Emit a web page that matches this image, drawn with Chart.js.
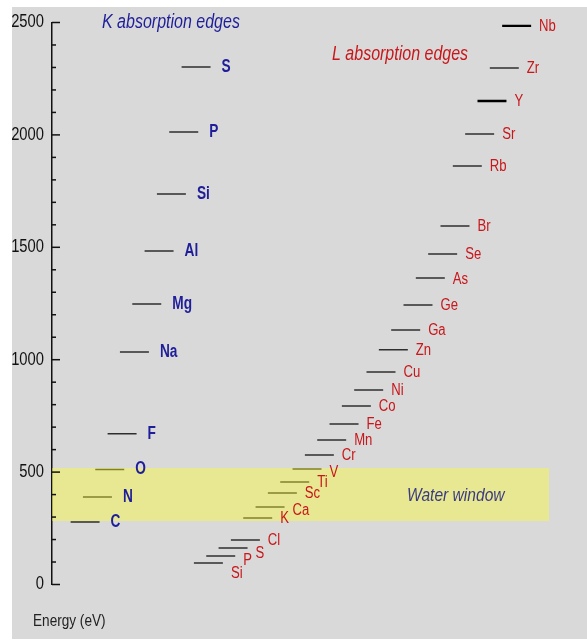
<!DOCTYPE html>
<html lang="en">
	<head>
		<meta charset="UTF-8" />
		<title>Absorption edges</title>
		<script src="https://cdn.jsdelivr.net/npm/chart.js"></script>
		<style>
			body { margin: 0; background: #fff; }
			.chart-container {
				position: absolute;
				left: 12px;
				top: 7px;
				width: 575px;
				height: 632px;
				background: #d9d9d9;
			}
		</style>
	</head>
	<body>
		<div class="chart-container">
			<canvas id="myChart"></canvas>
		</div>

		<script>
			// K edges (blue) and L edges (red), energy in eV
			const kElements = ["C", "N", "O", "F", "Na", "Mg", "Al", "Si", "P", "S"];
			const kEnergy = [278, 389, 512, 671, 1034, 1248, 1484, 1737, 2013, 2302];

			const lElements = ["Si", "P", "S", "Cl", "K", "Ca", "Sc", "Ti", "V", "Cr", "Mn", "Fe", "Co",
				"Ni", "Cu", "Zn", "Ga", "Ge", "As", "Se", "Br", "Rb", "Sr", "Y", "Zr", "Nb"];
			const lEnergy = [96, 127, 162, 198, 296, 345, 407, 456, 514, 576, 643, 714, 794,
				865, 945, 1044, 1132, 1243, 1363, 1470, 1595, 1862, 2004, 2151, 2298, 2485];

			const waterWindow = [282, 518];
			const yTickLabels = [0, 500, 1000, 1500, 2000, 2500];

			const sans = "'Liberation Sans', Arial, sans-serif";
			const segLen = 2.35; // length of each edge marker, in column units
			const lFirstColumn = 10;
			const xMin = -1.51, xMax = 38.8;
			const thickL = ["Y", "Nb"]; // these markers are drawn heavier in the original

			function segments(energies, firstCol) {
				const pts = [];
				energies.forEach((e, i) => {
					const x = firstCol + i;
					pts.push({ x: x, y: e }, { x: x + segLen, y: e }, { x: x + segLen, y: null });
				});
				return pts;
			}

			// no narrow font installed, so squeeze the text horizontally
			function narrowText(ctx, text, x, y, font, color, align, sx) {
				ctx.save();
				ctx.font = font;
				ctx.fillStyle = color;
				ctx.textAlign = align || "left";
				ctx.textBaseline = "middle";
				ctx.translate(x, y);
				ctx.scale(sx || 0.82, 1);
				ctx.fillText(text, 0, 0);
				ctx.restore();
			}

			// small nudges for the crowded labels at the bottom of the L series
			const lLabelDy = { Si: 10, P: 4, S: 5, V: 3, Ca: 3 };

			const labelPlugin = {
				id: "edgeLabels",
				afterDraw(chart) {
					const ctx = chart.ctx;
					const xs = chart.scales.x, ys = chart.scales.y;
					const area = chart.chartArea;

					// inward tick marks + labels
					ctx.save();
					ctx.strokeStyle = "#111";
					ctx.lineWidth = 1.5;
					ys.ticks.forEach((t) => {
						const py = ys.getPixelForValue(t.value);
						const major = yTickLabels.includes(t.value);
						ctx.beginPath();
						ctx.moveTo(area.left, py);
						ctx.lineTo(area.left + (major ? 8 : 4), py);
						ctx.stroke();
						if (major) {
							narrowText(ctx, String(t.value), area.left - 8, py, "18px " + sans, "#111", "right");
						}
					});
					ctx.restore();

					kElements.forEach((name, i) => {
						const px = xs.getPixelForValue(i + segLen) + 11;
						const py = ys.getPixelForValue(kEnergy[i]);
						narrowText(ctx, name, px, py, "bold 18px " + sans, "#1e1e9a", "left", 0.76);
					});

					lElements.forEach((name, i) => {
						const px = xs.getPixelForValue(lFirstColumn + i + segLen) + 8;
						const py = ys.getPixelForValue(lEnergy[i]) + 1 + (lLabelDy[name] || 0);
						narrowText(ctx, name, px, py, "16px " + sans, "#c8161a");
					});

					narrowText(ctx, "K absorption edges", area.left + 50, ys.getPixelForValue(2500),
						"italic 20px " + sans, "#1e1e9a", "left", 0.8);
					narrowText(ctx, "L absorption edges", area.left + 280, area.top + 32,
						"italic 20px " + sans, "#c8161a", "left", 0.8);

					const mid = (waterWindow[0] + waterWindow[1]) / 2;
					narrowText(ctx, "Water window", area.left + 355, ys.getPixelForValue(mid) + 1,
						"italic 19px " + sans, "#3b3b82");

					narrowText(ctx, "Energy (eV)", 21, area.bottom + 37, "17px " + sans, "#222", "left", 0.8);
				},
			};

			const ctx = document.getElementById("myChart").getContext("2d");
			const myChart = new Chart(ctx, {
				type: "scatter",
				data: {
					datasets: [
						{
							label: "water top",
							data: [{ x: xMin, y: waterWindow[1] }, { x: xMax, y: waterWindow[1] }],
							showLine: true,
							borderWidth: 0,
							pointRadius: 0,
							order: 0,
						},
						{
							label: "water bottom",
							data: [{ x: xMin, y: waterWindow[0] }, { x: xMax, y: waterWindow[0] }],
							showLine: true,
							borderWidth: 0,
							pointRadius: 0,
							fill: "-1",
							backgroundColor: "rgba(255, 255, 40, 0.4)",
							order: 0,
						},
						{
							label: "K edges",
							data: segments(kEnergy, 0),
							showLine: true,
							spanGaps: false,
							borderColor: "#2e2e2e",
							borderWidth: 1.5,
							pointRadius: 0,
							order: 1,
						},
						{
							label: "L edges",
							data: segments(lEnergy, lFirstColumn),
							showLine: true,
							spanGaps: false,
							borderColor: "#2e2e2e",
							borderWidth: 1.5,
							pointRadius: 0,
							segment: {
								borderWidth: (c) => (thickL.includes(lElements[Math.floor(c.p0DataIndex / 3)]) ? 2.4 : 1.5),
								borderColor: (c) => (thickL.includes(lElements[Math.floor(c.p0DataIndex / 3)]) ? "#000" : "#2e2e2e"),
							},
							order: 1,
						},
					],
				},
				options: {
					responsive: true,
					maintainAspectRatio: false,
					animation: false,
					layout: { padding: { left: 0, right: 38, top: 15.5, bottom: 54.5 } },
					plugins: {
						legend: { display: false },
						tooltip: { enabled: false },
					},
					scales: {
						x: { type: "linear", min: xMin, max: xMax, display: false },
						y: {
							min: 0,
							max: 2500,
							afterFit(scale) { scale.width = 40; },
							grid: { display: false },
							border: { display: true, color: "#111", width: 1.5 },
							ticks: { stepSize: 100, autoSkip: false, display: false },
						},
					},
				},
				plugins: [labelPlugin],
			});
		</script>
	</body>
</html>
